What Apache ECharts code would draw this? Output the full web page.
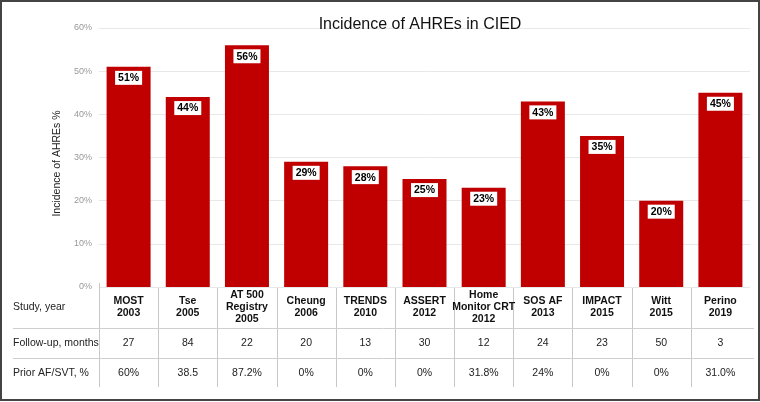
<!DOCTYPE html>
<html>
<head>
<meta charset="utf-8">
<script src="https://cdn.jsdelivr.net/npm/echarts@6/dist/echarts.min.js"></script>
<style>html,body{margin:0;padding:0;background:#fff}#c{width:760px;height:402px}</style>
</head>
<body>
<div id="c"></div>
<script>
const studies = ['MOST\n2003','Tse\n2005','AT 500\nRegistry\n2005','Cheung\n2006','TRENDS\n2010','ASSERT\n2012','Home\nMonitor CRT\n2012','SOS AF\n2013','IMPACT\n2015','Witt\n2015','Perino\n2019'];
const incidence = [51,44,56,29,28,25,23,43,35,20,45];
const followUp = ['27','84','22','20','13','30','12','24','23','50','3'];
const priorAF = ['60%','38.5','87.2%','0%','0%','0%','31.8%','24%','0%','0%','31.0%'];
const rowLabels = ['Study, year','Follow-up, months','Prior AF/SVT, %'];
const yTicks = [0,10,20,30,40,50,60];

const FONT = '"Liberation Sans", Arial, Helvetica, sans-serif';
const chart = echarts.init(document.getElementById('c'), null, {renderer:'canvas'});
const extraAxis = (arr, margin) => ({
  type:'category', data:studies, position:'bottom', gridIndex:0,
  axisLine:{show:false}, axisTick:{show:false},
  axisLabel:{interval:0, margin:margin, verticalAlign:'middle', color:'#222', fontSize:10.5, fontFamily:FONT,
    formatter:(v,i)=>arr[i]}
});
chart.setOption({
  animation:false,
  title:{text:'Incidence of AHREs in CIED', left:415, top:12, textAlign:'center',
    textStyle:{fontFamily:FONT, fontSize:16, fontWeight:'normal', color:'#111'}},
  grid:{left:99, right:10, top:28, bottom:115},
  xAxis:[
    {type:'category', data:studies,
     axisLine:{show:false}, axisTick:{show:false},
     axisLabel:{interval:0, margin:20, verticalAlign:'middle', lineHeight:12, color:'#111', fontSize:10.5, fontWeight:'bold', fontFamily:FONT}},
    extraAxis(followUp, 56),
    extraAxis(priorAF, 86)
  ],
  yAxis:{type:'value', min:yTicks[0], max:yTicks[yTicks.length-1], interval:10,
    name:'Incidence of AHREs %', nameLocation:'middle', nameGap:36, nameRotate:90,
    nameTextStyle:{fontFamily:FONT, fontSize:10.5, color:'#222', padding:[0,12,0,0]},
    axisLine:{show:false}, axisTick:{show:false},
    axisLabel:{formatter:'{value}%', color:'#999', fontSize:9, fontFamily:FONT, margin:7},
    splitLine:{lineStyle:{color:'#e8e8e8'}}},
  series:[{type:'bar', data:incidence, barWidth:44, itemStyle:{color:'#c00000'},
    label:{show:true, position:'insideTop', distance:4, formatter:'{c}%', backgroundColor:'#fff',
      padding:[2,3,1,3], color:'#000', fontWeight:'bold', fontSize:10.5, fontFamily:FONT}}]
});

// table decorations
const g = [];
const cx = studies.map((s,i)=>chart.convertToPixel({xAxisIndex:0}, i));
const w = cx[1]-cx[0];
const y0 = chart.convertToPixel({yAxisIndex:0}, 0);
for (let i=0;i<studies.length;i++){
  const x = Math.round(cx[i]-w/2)+0.5;
  g.push({type:'line', shape:{x1:x,y1:i===0?y0-4:y0+1,x2:x,y2:387}, style:{stroke:'#c8c8c8', lineWidth:1}});
}
[328,358].forEach(y=>g.push({type:'line', shape:{x1:13,y1:y+0.5,x2:754,y2:y+0.5}, style:{stroke:'#cfcfcf', lineWidth:1}}));
[307,343,373].forEach((y,i)=>g.push({type:'text', x:13, y:y, style:{text:rowLabels[i], fill:'#222', font:'10.5px '+FONT, textVerticalAlign:'middle', verticalAlign:'middle'}}));
g.push({type:'rect', shape:{x:1,y:1,width:758,height:399}, style:{fill:'none', stroke:'#444', lineWidth:2}, z:100});
chart.setOption({graphic:g});
</script>
</body>
</html>
